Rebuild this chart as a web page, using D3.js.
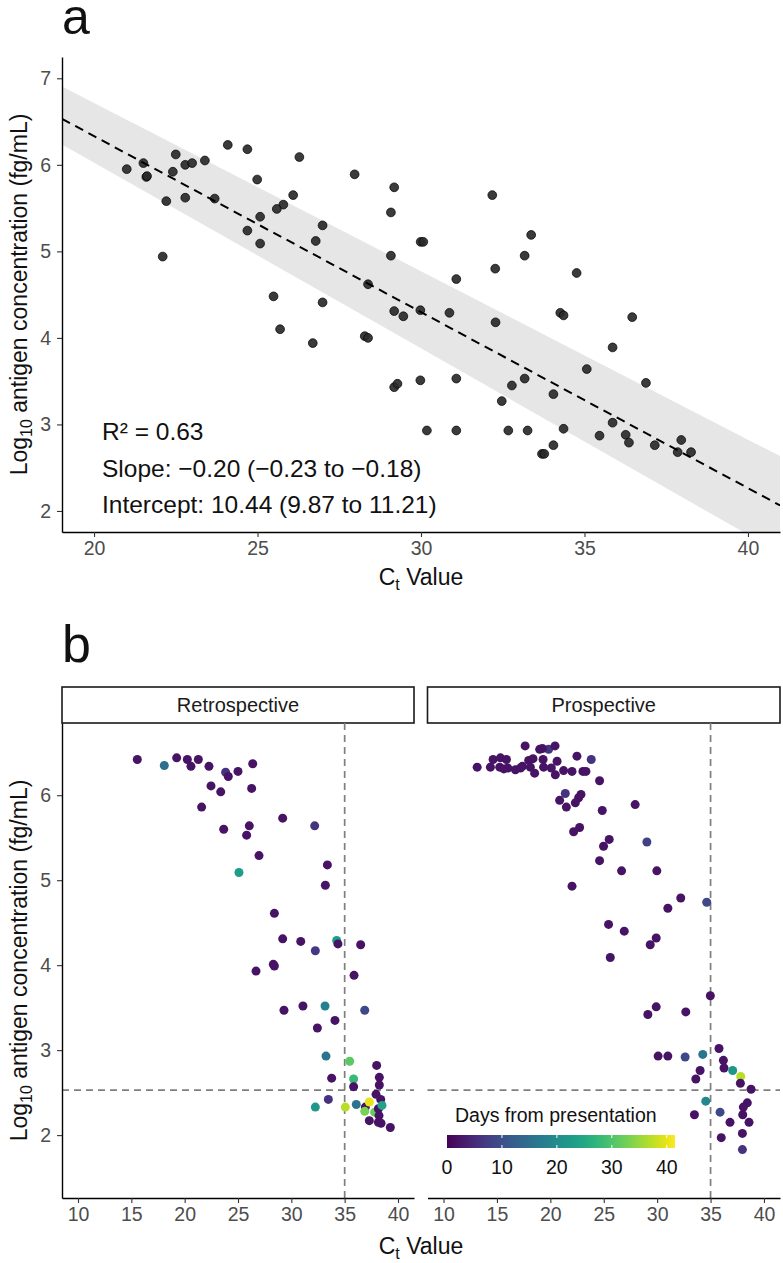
<!DOCTYPE html>
<html><head><meta charset="utf-8">
<script src="https://cdn.jsdelivr.net/npm/d3@7"></script>
<style>body{margin:0;background:#fff} svg{display:block} text{font-family:"Liberation Sans",Arial,Helvetica,sans-serif}</style>
</head><body><svg id="c" width="783" height="1263"></svg>
<script>
// ---------- Panel a data ----------
const aCt = [24.09,24.69,22.50,21.51,21.00,21.60,21.62,22.41,22.79,23.00,23.39,26.28,27.97,29.18,24.99,22.21,22.79,23.69,26.09,25.79,25.59,25.08,24.69,25.08,26.99,26.78,29.08,29.08,29.99,30.07,22.10,28.38,25.49,26.99,29.18,29.46,29.98,30.87,32.18,33.37,33.17,32.27,31.08,34.76,34.26,34.36,36.46,32.28,35.86,35.07,36.88,29.18,29.28,29.98,31.08,33.17,32.78,34.05,32.47,35.86,36.26,36.36,35.46,37.15,37.96,37.85,38.26,30.18,31.08,32.67,33.26,34.36,34.05,33.70,33.77,25.69,26.69,28.28,28.38];
const aAg = [6.23,6.18,6.12,6.02,5.95,5.86,5.87,5.92,6.00,6.02,6.05,6.09,5.89,5.74,5.83,5.58,5.62,5.61,5.65,5.54,5.49,5.40,5.24,5.09,5.30,5.12,5.45,4.95,5.11,5.11,4.94,4.62,4.48,4.41,4.31,4.25,4.32,4.29,5.65,5.19,4.95,4.80,4.68,4.75,4.29,4.26,4.24,4.18,3.89,3.64,3.48,3.43,3.47,3.51,3.53,3.53,3.45,3.35,3.27,3.02,2.88,2.79,2.87,2.76,2.82,2.68,2.68,2.93,2.93,2.93,2.93,2.95,2.76,2.66,2.66,4.10,3.94,4.02,4.00];
const fitIntercept = 10.40, fitSlope = -0.2034;
const bandCt = [19, 30, 41];
const bandUpper = [6.91, 4.77, 2.63];
const bandLower = [6.24, 3.88, 1.51];
const statLines = ["R² = 0.63", "Slope: \u22120.20 (\u22120.23 to \u22120.18)", "Intercept: 10.44 (9.87 to 11.21)"];
const aXTicks = [20,25,30,35,40];
const aYTicks = [2,3,4,5,6,7];

// ---------- Panel b data ----------
const facets = ["Retrospective","Prospective"];
const retroCt = [15.56,18.09,19.25,20.25,20.59,21.28,22.28,23.84,24.09,25.00,26.38,22.47,23.38,26.28,21.59,29.19,32.19,23.66,26.06,25.81,26.97,33.38,25.09,33.19,28.41,29.19,30.88,32.25,34.25,34.37,36.50,28.31,28.41,26.69,35.88,29.31,31.09,33.16,36.88,34.09,32.44,33.25,35.47,38.00,33.78,35.84,38.25,35.84,38.25,37.94,38.38,33.47,32.25,35.06,36.09,36.94,37.31,36.88,37.81,38.16,38.50,38.22,37.31,38.16,38.41,39.28];
const retroAg = [6.42,6.35,6.44,6.42,6.34,6.42,6.34,6.27,6.22,6.28,6.37,6.11,6.04,6.08,5.86,5.73,5.64,5.60,5.64,5.53,5.29,5.18,5.09,4.94,4.61,4.31,4.28,4.17,4.29,4.25,4.24,4.01,3.99,3.93,3.88,3.47,3.52,3.52,3.47,3.35,3.26,2.93,2.87,2.82,2.67,2.66,2.68,2.57,2.59,2.48,2.42,2.42,2.33,2.33,2.36,2.33,2.39,2.28,2.27,2.31,2.35,2.23,2.17,2.15,2.14,2.09];
const retroDays = [2,15,2,2,2,2,2,6,2,2,2,2,2,2,2,2,6,2,2,2,2,2,23,2,2,2,2,7,23,2,2,2,2,2,2,2,2,18,9,2,2,16,31,2,2,28,2,2,2,2,2,6,22,37,16,2,40,33,32,2,24,2,2,2,2,2];
const prospCt = [17.64,19.00,19.84,20.44,19.25,22.49,23.83,14.64,15.33,15.89,13.15,14.39,15.26,16.01,16.73,17.38,17.97,18.38,18.13,18.53,19.32,19.37,20.09,20.63,20.47,21.24,22.03,23.05,23.33,17.20,15.64,24.61,21.40,22.87,22.65,20.87,22.34,21.50,24.86,27.94,22.74,22.18,25.51,24.98,29.04,24.61,26.67,29.97,22.03,32.21,31.00,34.64,25.45,26.92,29.91,29.35,25.61,34.98,29.91,29.13,32.68,30.09,31.00,32.62,34.27,35.79,36.20,36.26,37.07,37.82,37.79,38.79,34.02,33.62,34.55,38.44,38.07,38.01,35.89,33.49,36.82,38.60,37.98,36.00,37.98];
const prospAg = [6.58,6.54,6.54,6.58,6.55,6.46,6.42,6.42,6.44,6.42,6.33,6.33,6.33,6.32,6.30,6.34,6.41,6.43,6.33,6.26,6.42,6.33,6.32,6.40,6.24,6.29,6.28,6.28,6.28,6.32,6.31,6.17,6.02,6.01,5.97,5.94,5.91,5.86,5.82,5.89,5.62,5.57,5.48,5.40,5.45,5.23,5.11,5.11,4.93,4.79,4.67,4.74,4.48,4.40,4.32,4.24,4.09,3.64,3.51,3.42,3.45,2.93,2.93,2.92,2.95,3.02,2.88,2.79,2.76,2.69,2.61,2.54,2.76,2.66,2.40,2.38,2.33,2.24,2.27,2.24,2.15,2.15,2.02,1.97,1.83];
const prospDays = [2,2,6,2,2,2,6,2,2,2,2,2,2,2,2,2,2,2,2,2,2,2,2,2,2,2,2,2,2,2,2,2,6,2,2,2,2,2,2,2,2,2,2,2,8,2,2,2,2,2,2,9,2,2,2,2,2,2,2,2,2,2,2,9,16,2,2,2,22,37,2,2,2,2,19,2,2,2,9,2,2,2,2,2,6];
const ctCutoff = 35, agCutoff = 2.53;
const bXTicks = [10,15,20,25,30,35,40];
const bYTicks = [2,3,4,5,6];
const legendTicks = [0,10,20,30,40];
const daysMax = 41.5;

// ---------- Drawing ----------
const svg = d3.select("#c");
const F = '"Liberation Sans",Arial,Helvetica,sans-serif';
const tickCol = "#4d4d4d";
const fmt = d3.format("d");

function styleAxis(g, showDomain) {
  g.selectAll(".domain").attr("stroke", showDomain ? "#000" : "none").attr("stroke-width", 1.4);
  g.selectAll(".tick line").attr("stroke", "#333").attr("stroke-width", 1.1);
  g.selectAll(".tick text").attr("fill", tickCol).attr("font-size", 19.5).attr("font-family", F);
}

// Panel a
const ax = d3.scaleLinear().domain([19.02, 40.98]).range([62, 780]);
const ay = d3.scaleLinear().domain([1.757, 7.246]).range([532, 57]);

svg.append("text").attr("x", 62).attr("y", 34).attr("font-size", 50).attr("fill", "#111").text("a");

const defs = svg.append("defs");
defs.append("clipPath").attr("id", "clipA").append("rect")
  .attr("x", 62).attr("y", 57).attr("width", 718).attr("height", 475);

const pa = svg.append("g").attr("clip-path", "url(#clipA)");
const bandData = bandCt.map((c, i) => ({c, lo: bandLower[i], hi: bandUpper[i]}));
pa.append("path").datum(bandData)
  .attr("d", d3.area().x(d => ax(d.c)).y0(d => ay(d.lo)).y1(d => ay(d.hi)))
  .attr("fill", "#e6e6e6");
pa.selectAll("circle").data(aCt.map((c, i) => ({c, v: aAg[i]}))).join("circle")
  .attr("cx", d => ax(d.c)).attr("cy", d => ay(d.v)).attr("r", 4.4)
  .attr("fill", "#2a2a2a").attr("fill-opacity", 0.92).attr("stroke", "#000").attr("stroke-width", 0.7);
const xs = ax.domain();
pa.append("line")
  .attr("x1", ax(xs[0])).attr("y1", ay(fitIntercept + fitSlope * xs[0]))
  .attr("x2", ax(xs[1])).attr("y2", ay(fitIntercept + fitSlope * xs[1]))
  .attr("stroke", "#000").attr("stroke-width", 2).attr("stroke-dasharray", "9,6");

const gax = svg.append("g").attr("transform", "translate(0,532)")
  .call(d3.axisBottom(ax).tickValues(aXTicks).tickFormat(fmt).tickSize(5).tickSizeOuter(0).tickPadding(4));
styleAxis(gax, true);
const gay = svg.append("g").attr("transform", "translate(62,0)")
  .call(d3.axisLeft(ay).tickValues(aYTicks).tickFormat(fmt).tickSize(5).tickSizeOuter(0).tickPadding(6));
styleAxis(gay, true);

statLines.forEach((s, i) => {
  svg.append("text").attr("x", 102).attr("y", 440 + i * 36.7).attr("font-size", 24.5).attr("fill", "#111").text(s);
});

function ctTitle(x, y) {
  const t = svg.append("text").attr("x", x).attr("y", y).attr("text-anchor", "middle")
    .attr("font-size", 23).attr("fill", "#111");
  t.append("tspan").text("C");
  t.append("tspan").attr("font-size", 16).attr("dy", 5).text("t");
  t.append("tspan").attr("dy", -5).text(" Value");
}
function yTitle(cx, cy) {
  const t = svg.append("text").attr("transform", `translate(${cx},${cy}) rotate(-90)`)
    .attr("text-anchor", "middle").attr("font-size", 23).attr("fill", "#111");
  t.append("tspan").text("Log");
  t.append("tspan").attr("font-size", 16).attr("dy", 5).text("10");
  t.append("tspan").attr("dy", -5).text(" antigen concentration (fg/mL)");
}
ctTitle(421, 585);
yTitle(27, 294.5);

// Panel b
svg.append("text").attr("x", 62).attr("y", 662).attr("font-size", 52).attr("fill", "#111").text("b");
const by = d3.scaleLinear().domain([1.26, 6.85]).range([1198, 723]);
const panels = [
  {name: facets[0], x0: 62, x1: 414, ct: retroCt, ag: retroAg, days: retroDays},
  {name: facets[1], x0: 427.5, x1: 780, ct: prospCt, ag: prospAg, days: prospDays}
];
const color = d3.scaleSequential(d3.interpolateViridis).domain([0, daysMax]);

panels.forEach((p, pi) => {
  const bx = d3.scaleLinear().domain([8.5, 41.5]).range([p.x0, p.x1]);
  svg.append("rect").attr("x", p.x0).attr("y", 687).attr("width", p.x1 - p.x0).attr("height", 36)
    .attr("fill", "#fff").attr("stroke", "#1a1a1a").attr("stroke-width", 1.6);
  svg.append("text").attr("x", (p.x0 + p.x1) / 2).attr("y", 712).attr("text-anchor", "middle")
    .attr("font-size", 20).attr("fill", "#1a1a1a").text(p.name);
  svg.append("line").attr("x1", bx(ctCutoff)).attr("x2", bx(ctCutoff)).attr("y1", 723).attr("y2", 1198)
    .attr("stroke", "#7f7f7f").attr("stroke-width", 1.7).attr("stroke-dasharray", "7,5");
  svg.append("line").attr("x1", p.x0).attr("x2", p.x1).attr("y1", by(agCutoff)).attr("y2", by(agCutoff))
    .attr("stroke", "#7f7f7f").attr("stroke-width", 1.7).attr("stroke-dasharray", "7,5");
  svg.append("g").selectAll("circle").data(p.ct.map((c, i) => ({c, v: p.ag[i], d: p.days[i]}))).join("circle")
    .attr("cx", d => bx(d.c)).attr("cy", d => by(d.v)).attr("r", 4.5)
    .attr("fill", d => color(d.d));
  const g = svg.append("g").attr("transform", "translate(0,1198)")
    .call(d3.axisBottom(bx).tickValues(bXTicks).tickFormat(fmt).tickSize(5).tickSizeOuter(0).tickPadding(4));
  styleAxis(g, true);
  if (pi === 0) {
    const gy = svg.append("g").attr("transform", `translate(${p.x0},0)`)
      .call(d3.axisLeft(by).tickValues(bYTicks).tickFormat(fmt).tickSize(5).tickSizeOuter(0).tickPadding(6));
    styleAxis(gy, true);
  }
});
ctTitle(421, 1254);
yTitle(27, 960.5);

// Legend
const lx = d3.scaleLinear().domain([0, daysMax]).range([447, 675]);
const grad = defs.append("linearGradient").attr("id", "vir").attr("x1", "0%").attr("x2", "100%");
d3.range(0, 1.0001, 0.05).forEach(t => grad.append("stop").attr("offset", (t * 100) + "%").attr("stop-color", d3.interpolateViridis(t)));
svg.append("text").attr("x", 455).attr("y", 1122).attr("font-size", 19.5).attr("fill", "#111").text("Days from presentation");
svg.append("rect").attr("x", lx(0)).attr("y", 1135).attr("width", lx(daysMax) - lx(0)).attr("height", 13).attr("fill", "url(#vir)");
legendTicks.forEach(t => {
  if (t > 0) {
    svg.append("line").attr("x1", lx(t)).attr("x2", lx(t)).attr("y1", 1135).attr("y2", 1138).attr("stroke", "#fff").attr("stroke-width", 1);
    svg.append("line").attr("x1", lx(t)).attr("x2", lx(t)).attr("y1", 1145).attr("y2", 1148).attr("stroke", "#fff").attr("stroke-width", 1);
  }
  svg.append("text").attr("x", lx(t)).attr("y", 1174).attr("text-anchor", "middle").attr("font-size", 19.5).attr("fill", "#111").text(t);
});
</script></body></html>
